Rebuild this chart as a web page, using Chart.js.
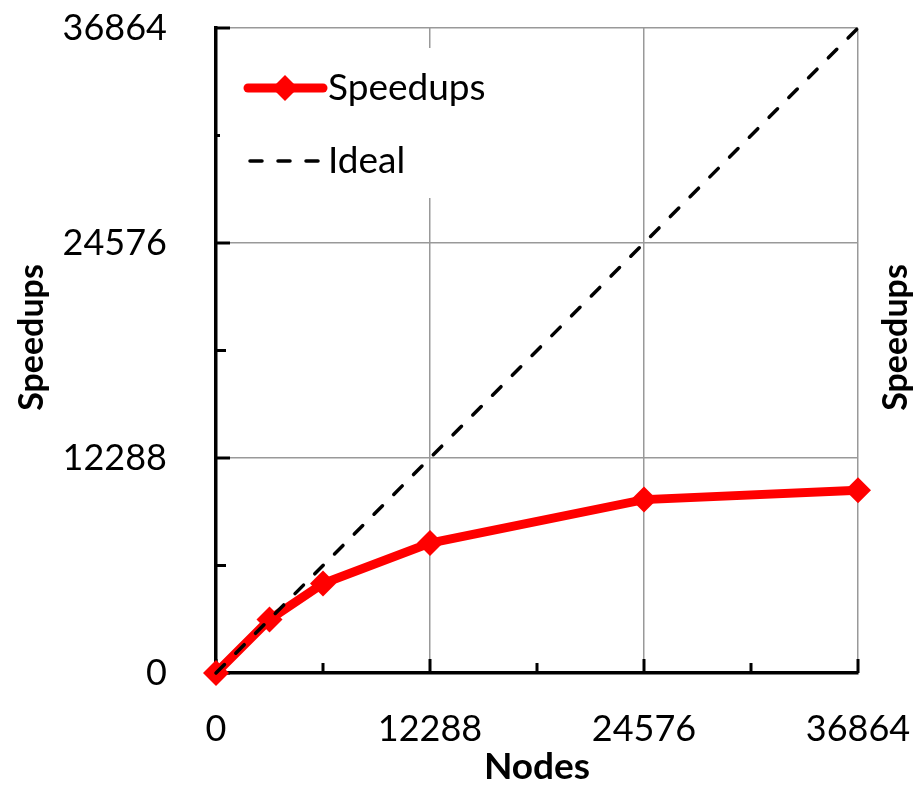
<!DOCTYPE html>
<html>
<head>
<meta charset="utf-8">
<script src="https://cdn.jsdelivr.net/npm/chart.js@4.4.1/dist/chart.umd.min.js"></script>
<style>
  html, body { margin: 0; padding: 0; background: #fff; }
  #wrap { width: 916px; height: 786px; }
</style>
</head>
<body>
<div id="wrap"><canvas id="myChart"></canvas></div>
<script>
// === data === //
const nodes = [0, 3072, 6144, 12288, 24576, 36864];
const speedups = [0, 3060, 5110, 7430, 9910, 10440];
const ideal = [0, 3072, 6144, 12288, 24576, 36864];
const majorTicks = [0, 12288, 24576, 36864];
const minorTicks = [6144, 18432, 30720];
const xTitle = 'Nodes';
const yTitle = 'Speedups';

const FONT = 'Lato';

// no extra label padding from the scales, layout padding does it
const noPad = (scale) => {
  scale.paddingTop = 0;
  scale.paddingBottom = 0;
  scale.paddingLeft = 0;
  scale.paddingRight = 0;
};

// inward tick marks, legend box, both side titles
const decorPlugin = {
  id: 'decor',
  beforeDatasetsDraw(chart) {
    const { ctx, chartArea, scales } = chart;
    const x = scales.x;
    const y = scales.y;
    ctx.save();
    ctx.strokeStyle = '#000';
    ctx.lineWidth = 3;
    const drawTicks = (vals, len) => {
      vals.forEach((v) => {
        const px = x.getPixelForValue(v);
        ctx.beginPath();
        ctx.moveTo(px, chartArea.bottom);
        ctx.lineTo(px, chartArea.bottom - len);
        ctx.stroke();
        const py = y.getPixelForValue(v);
        ctx.beginPath();
        ctx.moveTo(chartArea.left, py);
        ctx.lineTo(chartArea.left + len, py);
        ctx.stroke();
      });
    };
    drawTicks(majorTicks, 14);
    drawTicks(minorTicks, 10);

    // legend box (white, hides grid)
    ctx.fillStyle = '#fff';
    ctx.fillRect(chartArea.left + 4, chartArea.top + 20, 290, 150);
    const lx = chartArea.left + 32;
    const rows = [chartArea.top + 60, chartArea.top + 133];
    chart.data.datasets.forEach((ds, i) => {
      const ry = rows[i];
      ctx.save();
      ctx.strokeStyle = ds.borderColor;
      ctx.lineWidth = ds.borderWidth;
      ctx.lineCap = 'round';
      if (ds.borderDash) ctx.setLineDash(ds.borderDash);
      ctx.beginPath();
      ctx.moveTo(lx + (i ? 2 : 0), ry);
      ctx.lineTo(lx + (i ? 72 : 75), ry);
      ctx.stroke();
      ctx.restore();
      if (ds.pointRadius) {
        const r = ds.pointRadius;
        ctx.fillStyle = ds.backgroundColor;
        ctx.beginPath();
        ctx.moveTo(lx + 37, ry - r);
        ctx.lineTo(lx + 37 + r, ry);
        ctx.lineTo(lx + 37, ry + r);
        ctx.lineTo(lx + 37 - r, ry);
        ctx.closePath();
        ctx.fill();
      }
      ctx.fillStyle = '#000';
      ctx.font = `37px ${FONT}`;
      ctx.textAlign = 'left';
      ctx.textBaseline = 'middle';
      ctx.fillText(ds.label, lx + 80, ry);
    });
    ctx.restore();
  },
  afterDraw(chart) {
    const { ctx, chartArea } = chart;
    const midY = (chartArea.top + chartArea.bottom) / 2 - 13;
    ctx.save();
    ctx.fillStyle = '#000';
    ctx.font = `bold 34px ${FONT}`;
    ctx.textAlign = 'center';
    ctx.textBaseline = 'middle';
    [32, 896].forEach((tx) => {
      ctx.save();
      ctx.translate(tx, midY);
      ctx.rotate(-Math.PI / 2);
      ctx.fillText(yTitle, 0, 0);
      ctx.restore();
    });
    ctx.restore();
  },
};

const ctx = document.getElementById('myChart');
Chart.defaults.font.family = FONT;
Chart.defaults.color = '#000';

let chart = new Chart(ctx, {
  type: 'scatter',
  data: {
    datasets: [
      {
        label: 'Speedups',
        data: nodes.map((n, i) => ({ x: n, y: speedups[i] })),
        showLine: true,
        clip: false,
        borderColor: '#ff0000',
        backgroundColor: '#ff0000',
        borderWidth: 9,
        pointStyle: 'rectRot',
        pointRadius: 13,
        pointBorderWidth: 0,
        order: 2,
      },
      {
        label: 'Ideal',
        data: nodes.map((n, i) => ({ x: n, y: ideal[i] })),
        showLine: true,
        clip: false,
        borderColor: '#000',
        borderWidth: 3.5,
        borderDash: [12, 16],
        borderCapStyle: 'round',
        pointRadius: 0,
        order: 1,
      },
    ],
  },
  options: {
    responsive: true,
    maintainAspectRatio: false,
    animation: false,
    layout: {
      padding: { top: 28, right: 58, left: 0, bottom: 0 },
    },
    plugins: {
      legend: { display: false },
      tooltip: { enabled: false },
    },
    scales: {
      x: {
        type: 'linear',
        min: 0,
        max: 36864,
        afterBuildTicks: (scale) => {
          scale.ticks = majorTicks.map((v) => ({ value: v }));
        },
        afterFit: (scale) => {
          scale.height = 113;
          noPad(scale);
        },
        ticks: {
          font: { size: 36 },
          padding: 35,
          maxRotation: 0,
          callback: (v) => String(v),
        },
        grid: {
          color: '#999',
          lineWidth: 1.5,
          drawTicks: false,
        },
        border: { color: '#000', width: 3.5 },
        title: {
          display: true,
          text: xTitle,
          font: { size: 37, weight: 'bold', lineHeight: 1 },
          padding: 0,
        },
      },
      y: {
        type: 'linear',
        min: 0,
        max: 36864,
        afterBuildTicks: (scale) => {
          scale.ticks = majorTicks.map((v) => ({ value: v }));
        },
        afterFit: (scale) => {
          scale.width = 216;
          noPad(scale);
        },
        ticks: {
          font: { size: 36 },
          padding: 49,
          callback: (v) => String(v),
        },
        grid: {
          color: '#999',
          lineWidth: 1.5,
          drawTicks: false,
        },
        border: { color: '#000', width: 3.5 },
      },
    },
  },
  plugins: [decorPlugin],
});
</script>
</body>
</html>
